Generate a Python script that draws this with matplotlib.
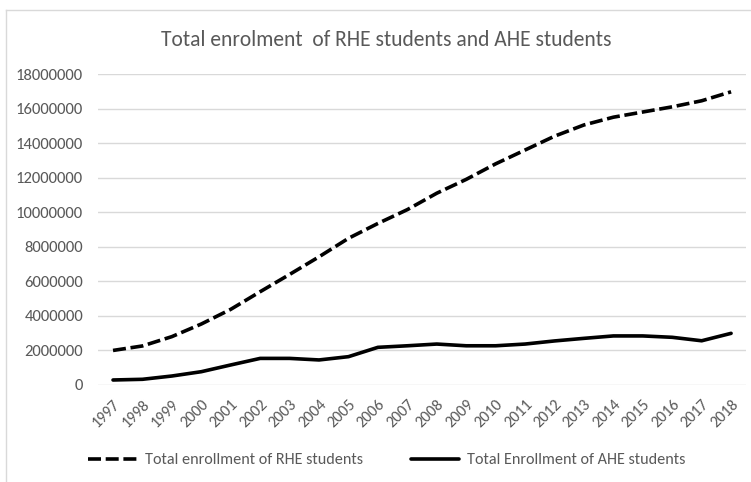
import matplotlib
matplotlib.use("Agg")
import matplotlib.pyplot as plt
from matplotlib import font_manager as fm
from matplotlib.lines import Line2D

years = ["1997", "1998", "1999", "2000", "2001", "2002", "2003", "2004", "2005", "2006", "2007",
         "2008", "2009", "2010", "2011", "2012", "2013", "2014", "2015", "2016", "2017", "2018"]
rhe = [2.0e6, 2.26e6, 2.8e6, 3.53e6, 4.38e6, 5.4e6, 6.4e6, 7.42e6, 8.49e6, 9.35e6, 10.15e6,
       11.1e6, 11.9e6, 12.8e6, 13.6e6, 14.4e6, 15.05e6, 15.5e6, 15.8e6, 16.1e6, 16.45e6, 16.97e6]
ahe = [0.29e6, 0.33e6, 0.52e6, 0.77e6, 1.16e6, 1.54e6, 1.54e6, 1.45e6, 1.64e6, 2.18e6, 2.27e6,
       2.37e6, 2.27e6, 2.27e6, 2.37e6, 2.55e6, 2.7e6, 2.84e6, 2.84e6, 2.76e6, 2.56e6, 2.99e6]
yticks = [0, 2000000, 4000000, 6000000, 8000000, 10000000, 12000000, 14000000, 16000000, 18000000]

names = {f.name for f in fm.fontManager.ttflist}
fam = "Carlito" if "Carlito" in names else "Liberation Sans"
plt.rcParams['font.family'] = [fam, 'DejaVu Sans']

W, H = 751, 482
fig = plt.figure(figsize=(W / 100, H / 100), dpi=100)
gray = "#595959"

# axes placed in pixels: x from 98.3 to 745.8, y from 74 (18M) to 385 (0)
ax = fig.add_axes([98.3 / W, 1 - 385 / H, 647.5 / W, 311 / H])
x = list(range(len(years)))
ax.plot(x, rhe, color="black", lw=2.6, dashes=(3.6, 1.3), label="Total enrollment of RHE students")
ax.plot(x, ahe, color="black", lw=2.6, label="Total Enrollment of AHE students", solid_capstyle="round")

ax.set_xlim(-0.5, len(years) - 0.5)
ax.set_ylim(0, 18000000)
ax.set_yticks(yticks)
ax.set_yticklabels([str(v) for v in yticks])
ax.set_xticks(x)
ax.set_xticklabels(years, rotation=45, ha="right", va="top", rotation_mode="anchor")
ax.tick_params(axis="y", length=0, colors=gray, labelsize=12, pad=11)
ax.tick_params(axis="x", length=0, colors=gray, labelsize=11.5, pad=9)
for s in ax.spines.values():
    s.set_visible(False)
ax.grid(axis="y", color="#d9d9d9", lw=1)
ax.set_axisbelow(True)

fig.text(386 / W, 1 - 40 / H, "Total enrolment  of RHE students and AHE students",
         ha="center", va="center", fontsize=15.5, color=gray)

leg = fig.legend(loc="center", bbox_to_anchor=(387 / W, 1 - 460 / H), ncol=2, frameon=False,
                 fontsize=11.6, handlelength=3.0, columnspacing=3.0, handletextpad=0.5,
                 labelcolor=gray)

# chart border (light gray, left and top)
fig.add_artist(Line2D([6 / W, 6 / W], [0, 1 - 10 / H], color="#d9d9d9", lw=1))
fig.add_artist(Line2D([6 / W, 1], [1 - 10 / H, 1 - 10 / H], color="#d9d9d9", lw=1))

fig.savefig("out.png", dpi=100)
